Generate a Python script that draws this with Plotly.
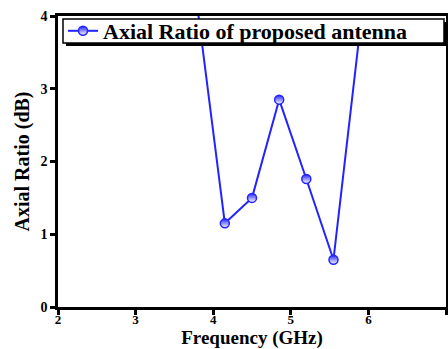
import plotly.graph_objects as go

freq = [3.8, 4.15, 4.5, 4.85, 5.2, 5.55, 5.9]
axial_ratio = [4.09, 1.15, 1.50, 2.85, 1.76, 0.65, 3.88]
series_name = "Axial Ratio of proposed antenna"
x_ticks = [2, 3, 4, 5, 6, 7]
y_ticks = [0, 1, 2, 3, 4]

FONT = "Liberation Serif, Times New Roman, serif"
BLUE = "rgb(35,35,255)"

fig = go.Figure()
fig.add_trace(go.Scatter(
    x=freq, y=axial_ratio, mode="lines+markers", name=series_name,
    line=dict(color=BLUE, width=2),
    marker=dict(symbol="circle", size=9, color=BLUE,
                gradient=dict(type="vertical", color="white"),
                line=dict(color=BLUE, width=1.5)),
    cliponaxis=True,
))

W, H = 448, 349
ml, mr, mt, mb = 58, 2, 16, 42
pw, ph = W - ml - mr, H - mt - mb

def px2x(p): return (p - ml) / pw
def py2y(p): return 1 - (p - mt) / ph

# legend frame + shadow (pixels -> paper)
lx0, ly0, lx1, ly1 = 63, 19, 444, 43
off = 3
fig.add_shape(type="rect", xref="paper", yref="paper",
              x0=px2x(lx0 + off), x1=px2x(lx1 + off),
              y0=py2y(ly1 + off), y1=py2y(ly0 + off),
              fillcolor="black", line=dict(width=0), layer="above")
fig.add_shape(type="rect", xref="paper", yref="paper",
              x0=px2x(lx0), x1=px2x(lx1),
              y0=py2y(ly1), y1=py2y(ly0),
              fillcolor="white", line=dict(color="black", width=1.5), layer="above")

axis_common = dict(
    showgrid=False, zeroline=False, showline=True, linecolor="black",
    linewidth=2.5, ticks="outside", ticklen=5, tickwidth=2.5, tickcolor="black",
    mirror=True,
    tickfont=dict(family=FONT, size=14, color="black", weight="bold"),
)
fig.update_xaxes(range=[2, 7], tickvals=x_ticks, **axis_common,
                 ticklabelstandoff=-6,
                 tickfont_size=13,
                 title=dict(text="<b>Frequency (GHz)</b>", standoff=8,
                            font=dict(family=FONT, size=19, color="black")))
fig.update_yaxes(range=[0, 4], tickvals=y_ticks, **axis_common,
                 title=dict(text="<b>Axial Ratio (dB)</b>", standoff=6,
                            font=dict(family=FONT, size=20, color="black")))

fig.update_layout(
    width=W, height=H,
    margin=dict(l=ml, r=mr, t=mt, b=mb, autoexpand=False),
    plot_bgcolor="white", paper_bgcolor="white",
    showlegend=True,
    legend=dict(x=px2x(lx0), y=py2y((ly0 + ly1) / 2), xanchor="left", yanchor="middle",
                bgcolor="rgba(0,0,0,0)", borderwidth=0,
                font=dict(family=FONT, size=22, color="black", weight="bold"),
                itemwidth=30, tracegroupgap=0),
)
fig.write_html("out.html")
